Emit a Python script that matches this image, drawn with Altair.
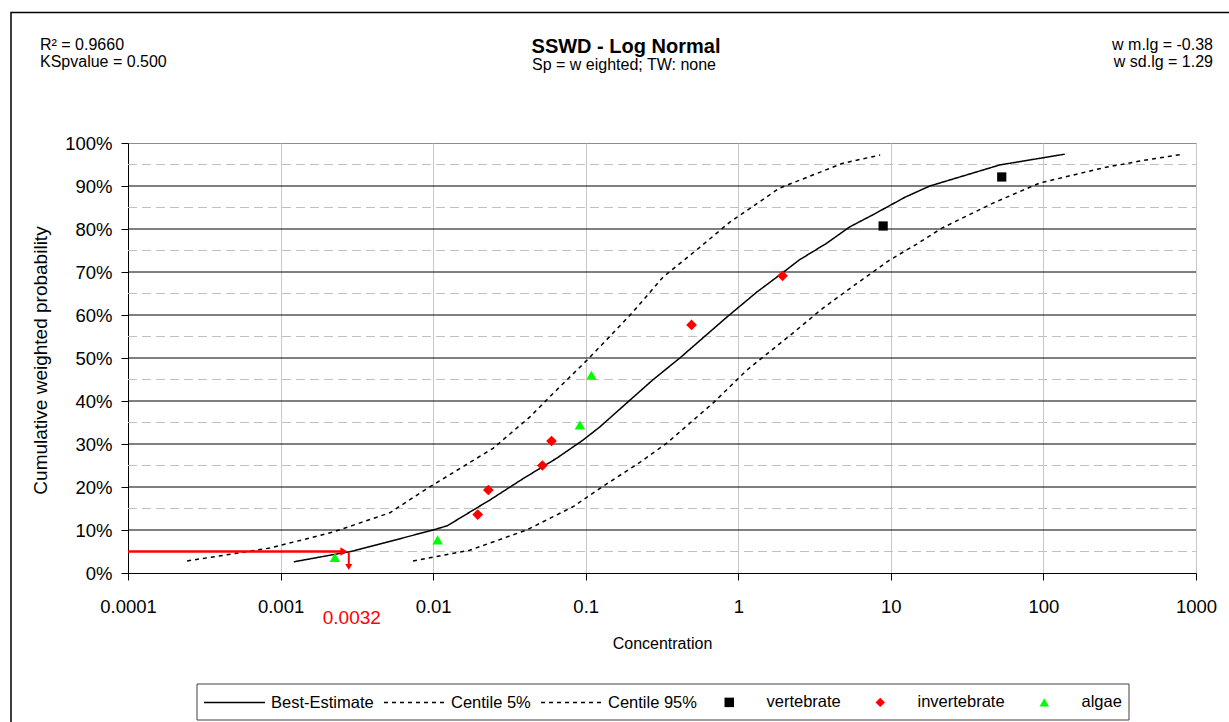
import altair as alt
import pandas as pd

FONT = "Liberation Sans"
W, H = 1068, 430

# ---- data ----
series_names = ["Best-Estimate", "Centile 5%", "Centile 95%"]

be_conc = [0.00122, 0.00298, 0.0100, 0.0124, 0.0236, 0.0387, 0.0646, 0.0959, 0.124, 0.195,
           0.275, 0.414, 0.841, 1.32, 1.95, 2.51, 3.80, 5.38, 7.62, 12.4, 18.0, 51.8, 138.0]
be_prob = [2.6, 5.1, 10.0, 11.0, 17.0, 21.9, 26.7, 30.9, 34.0, 40.2,
           44.9, 50.0, 59.5, 65.3, 69.8, 72.8, 76.7, 80.5, 83.3, 87.4, 90.0, 94.9, 97.4]

c5_conc = [0.000244, 0.00085, 0.0022, 0.0052, 0.0088, 0.0116, 0.0247, 0.0431, 0.0617, 0.102,
           0.151, 0.204, 0.321, 0.562, 0.881, 1.86, 4.85, 8.51]
c5_prob = [2.8, 5.8, 9.5, 14.0, 19.3, 21.9, 29.0, 36.3, 41.9, 49.5,
           55.8, 60.7, 68.8, 75.8, 81.6, 89.5, 95.3, 97.2]

c95_conc = [0.00738, 0.0174, 0.041, 0.0824, 0.124, 0.226, 0.340, 0.682, 1.14, 2.28,
            3.59, 5.55, 9.84, 14.8, 21.6, 46.6, 94.6, 245.0, 427.0, 818.0]
c95_prob = [2.8, 5.3, 10.0, 15.4, 19.7, 25.7, 30.2, 39.5, 47.2, 55.8,
            61.6, 66.5, 72.8, 76.5, 80.2, 86.0, 90.7, 94.2, 95.8, 97.4]

groups = ["vertebrate", "invertebrate", "algae"]
vert_conc = [8.9, 53.3]
vert_prob = [80.7, 92.1]
inv_conc = [0.0196, 0.023, 0.052, 0.0597, 0.494, 1.95]
inv_prob = [13.6, 19.3, 25.0, 30.7, 57.7, 69.1]
alg_conc = [0.00227, 0.0107, 0.0916, 0.109]
alg_prob = [3.6, 7.7, 34.4, 46.0]

x_ticks = [0.0001, 0.001, 0.01, 0.1, 1, 10, 100, 1000]
y_ticks = [0, 10, 20, 30, 40, 50, 60, 70, 80, 90, 100]
major_grid = [10, 20, 30, 40, 50, 60, 70, 80, 90]
minor_grid = [5, 15, 25, 35, 45, 55, 65, 75, 85, 95]

hc5_level = 5
hc5_arrow_conc = 0.0028
hc5_label = "0.0032"
x_min = 0.0001

# ---- tables ----
rows = []
for name, xs, ys in [(series_names[0], be_conc, be_prob),
                     (series_names[1], c5_conc, c5_prob),
                     (series_names[2], c95_conc, c95_prob)]:
    for i, (a, b) in enumerate(zip(xs, ys)):
        rows.append({"series": name, "conc": a, "prob": b, "order": i})
lines_df = pd.DataFrame(rows)

def pts(name, xs, ys):
    return pd.DataFrame({"group": [name] * len(xs), "conc": xs, "prob": ys})

x_scale = alt.Scale(type="log", domain=[0.0001, 1000], nice=False)
y_scale = alt.Scale(domain=[0, 100], nice=False, zero=False)

x_axis = alt.Axis(
    title="Concentration", values=x_ticks, labelExpr="format(datum.value, '~g')",
    grid=True, gridColor="#c8c8c8", gridWidth=1,
    domainColor="black", domainWidth=1, tickColor="black", tickSize=7, tickWidth=1,
    labelFontSize=18.5, labelColor="black", labelBaseline="alphabetic", labelPadding=32,
    titleFontSize=16, titleFontWeight="normal", titleColor="black",
    titleBaseline="alphabetic", titleY=75, labelFlush=False, labelOverlap=False,
)
y_axis = alt.Axis(
    title="Cumulative weighted probability", values=y_ticks,
    labelExpr="datum.value + '%'", grid=False,
    domainColor="black", domainWidth=1, tickColor="black", tickSize=7, tickWidth=1,
    labelFontSize=18.5, labelColor="black", labelPadding=9,
    titleFontSize=19, titleFontWeight="normal", titleColor="black",
    titleAngle=270, titleAlign="center", titleBaseline="middle", titleX=-88, titleY=H / 2 + 2,
    labelFlush=False, labelOverlap=False,
)

def XF(field):
    return alt.X(field, scale=x_scale, axis=x_axis)

def YF(field):
    return alt.Y(field, scale=y_scale, axis=y_axis)

minor = alt.Chart(pd.DataFrame({"p": minor_grid})).mark_rule(
    color="#c0c0c0", strokeWidth=1, strokeDash=[9, 5]
).encode(y=YF("p:Q"), x=alt.value(0), x2=alt.value(W))

major = alt.Chart(pd.DataFrame({"p": major_grid})).mark_rule(
    color="black", strokeWidth=1
).encode(y=YF("p:Q"), x=alt.value(0), x2=alt.value(W))

leg_lines = alt.Legend(
    title=None, orient="none", legendX=75, legendY=528, direction="horizontal",
    symbolType="stroke", symbolSize=3721, symbolStrokeWidth=1.5, symbolStrokeColor="black",
    labelFontSize=16.5, labelColor="black", labelFont=FONT, labelOffset=5,
    columnPadding=7, padding=0,
)
lines = alt.Chart(lines_df).mark_line(color="black", strokeWidth=1.5).encode(
    x=XF("conc:Q"),
    y=YF("prob:Q"),
    strokeDash=alt.StrokeDash(
        "series:N",
        scale=alt.Scale(domain=series_names, range=[[1, 0], [4, 4], [4, 4]]),
        legend=leg_lines,
    ),
    order="order:Q",
)

leg_pts = alt.Legend(
    title=None, orient="none", legendX=593, legendY=551, direction="horizontal",
    symbolSize=90, labelFontSize=16.5, labelColor="black", labelFont=FONT,
    labelOffset=29, columnPadding=31, padding=0, symbolStrokeWidth=0,
)
shape_enc = alt.Shape("group:N", scale=alt.Scale(domain=groups, range=["square", "diamond", "triangle-up"]), legend=leg_pts)
color_enc = alt.Color("group:N", scale=alt.Scale(domain=groups, range=["#000000", "#ff0000", "#00ff00"]), legend=leg_pts)

def point_layer(df, size):
    return alt.Chart(df).mark_point(filled=True, opacity=1, size=size).encode(
        x=XF("conc:Q"), y=YF("prob:Q"), shape=shape_enc, color=color_enc)

p_vert = point_layer(pts("vertebrate", vert_conc, vert_prob), 85)
p_inv = point_layer(pts("invertebrate", inv_conc, inv_prob), 115)
p_alg = point_layer(pts("algae", alg_conc, alg_prob), 110)

arrow_h = alt.Chart(pd.DataFrame({"x0": [x_min], "x1": [hc5_arrow_conc * 0.93], "y": [hc5_level]})).mark_rule(
    color="red", strokeWidth=2.5).encode(x=XF("x0:Q"), x2="x1:Q", y=YF("y:Q"))
head_h = alt.Chart(pd.DataFrame({"x": [hc5_arrow_conc * 0.93], "y": [hc5_level]})).mark_point(
    shape="triangle-right", filled=True, color="red", opacity=1, size=70).encode(
    x=XF("x:Q"), y=YF("y:Q"))
arrow_v = alt.Chart(pd.DataFrame({"x": [hc5_arrow_conc], "y0": [hc5_level], "y1": [1.6]})).mark_rule(
    color="red", strokeWidth=2).encode(x=XF("x:Q"), y=YF("y0:Q"), y2="y1:Q")
head_v = alt.Chart(pd.DataFrame({"x": [hc5_arrow_conc], "y": [1.4]})).mark_point(
    shape="triangle-down", filled=True, color="red", opacity=1, size=50).encode(
    x=XF("x:Q"), y=YF("y:Q"))
hc5_text = alt.Chart(pd.DataFrame({"x": [hc5_arrow_conc], "t": [hc5_label]})).mark_text(
    color="red", fontSize=19, baseline="alphabetic", align="center", font=FONT, dx=3).encode(
    x=XF("x:Q"), y=alt.value(481), text="t:N")

def label(txt, x, y, align="left", size=16, weight="normal"):
    return alt.Chart(pd.DataFrame({"t": [txt]})).mark_text(
        align=align, baseline="alphabetic", fontSize=size, fontWeight=weight,
        color="black", font=FONT).encode(x=alt.value(x), y=alt.value(y), text="t:N")

texts = [
    label("R² = 0.9660", -88, -93),
    label("KSpvalue = 0.500", -88, -76.3),
    label("w m.lg = -0.38", 1085, -93, align="right"),
    label("w sd.lg = 1.29", 1085, -76.3, align="right"),
    label("SSWD - Log Normal", 498, -90.3, align="center", size=20, weight="bold"),
    label("Sp = w eighted; TW: none", 496, -73, align="center", size=16),
]

frame = alt.Chart(pd.DataFrame({"k": [0]})).mark_rect(
    fillOpacity=0, stroke="black", strokeWidth=1.5).encode(
    x=alt.value(-117), x2=alt.value(1120), y=alt.value(-130.5), y2=alt.value(600))
legend_box = alt.Chart(pd.DataFrame({"k": [0]})).mark_rect(
    fillOpacity=0, stroke="#404040", strokeWidth=1).encode(
    x=alt.value(69), x2=alt.value(1001), y=alt.value(541), y2=alt.value(577))

chart = alt.layer(
    minor, major, lines, p_vert, p_inv, p_alg,
    arrow_h, head_h, arrow_v, head_v, hc5_text, *texts, frame, legend_box,
).properties(
    width=W, height=H,
    autosize=alt.AutoSizeParams(type="none"),
    padding={"left": 128, "top": 143, "right": 33, "bottom": 149},
    background="white",
).configure(font=FONT).configure_view(stroke="#8c8c8c", strokeWidth=1)

chart.save("out.html", embed_options={"renderer": "svg", "actions": False})
